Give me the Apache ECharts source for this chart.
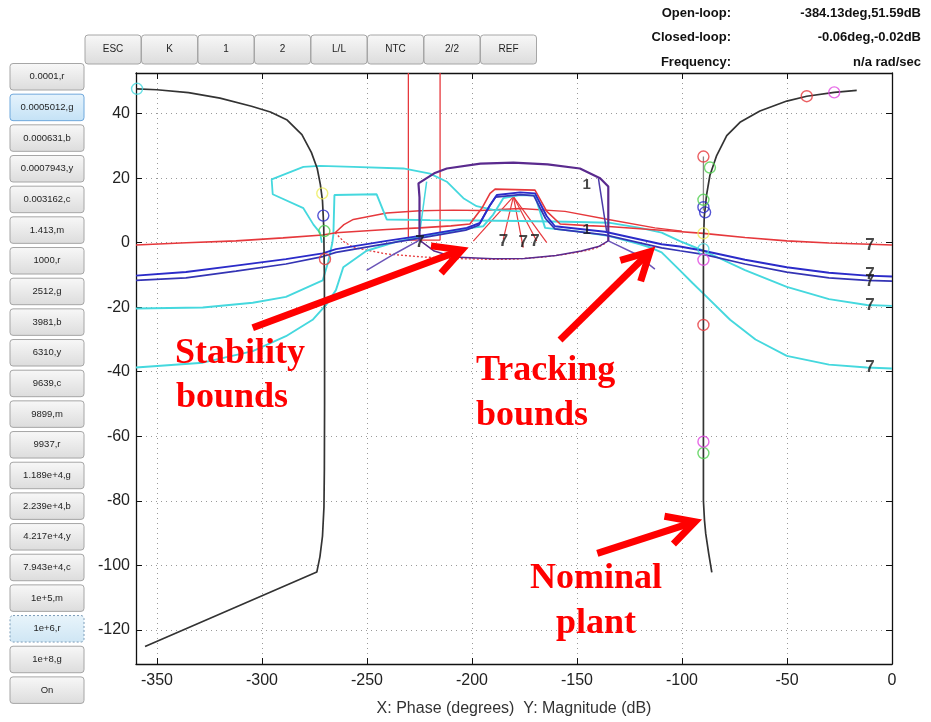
<!DOCTYPE html>
<html>
<head>
<meta charset="utf-8">
<script src="https://cdn.jsdelivr.net/npm/echarts@6/dist/echarts.min.js"></script>
<style>
html,body{margin:0;padding:0;background:#fff;}
#chart{width:931px;height:722px;}
</style>
</head>
<body>
<div id="chart"></div>
<script>
// ---------- tick values ----------
var xTicks = [-350,-300,-250,-200,-150,-100,-50,0];
var yTicks = [-120,-100,-80,-60,-40,-20,0,20,40];

// ---------- nominal plant (black) ----------
var plantLeft = [[-359.7,47.7],[-350,47.4],[-335,46.5],[-320,44.8],[-305,42.3],[-296,40.5],[-288,38.0],[-281,33.5],[-276.5,28],[-273.7,23],[-272.2,18],[-271.2,13],[-270.6,5],[-270.3,-10],[-270.2,-30],[-270.2,-50],[-270.3,-70],[-270.5,-82],[-271.2,-91],[-272.4,-97.3],[-273.9,-102.1],[-355.7,-125.2]];
var plantRight = [[-16.8,47.2],[-27.5,46.6],[-40.6,45.4],[-50.1,43.9],[-62.9,40.8],[-72.4,37.3],[-78.7,33.2],[-83.5,27],[-86.7,20.9],[-88.3,14.8],[-89.4,8],[-89.8,0],[-89.8,-20],[-89.8,-40],[-89.8,-60],[-89.8,-80],[-89.3,-86],[-88.7,-90.2],[-87.3,-96.3],[-85.8,-102.2]];
var plantStub = [[-89.8,26.7],[-89.8,10]];

// ---------- frequency markers ----------
var circCyan = [[-359.5,47.7],[-89.8,-2]];
var circYellow = [[-271.3,15.3],[-89.8,2.9]];
var circBlue = [[-270.8,8.4],[-89.8,11],[-89,9.4]];
var circGreen = [[-270.3,3.6],[-86.7,23.3],[-89.8,13.3],[-89.8,-65.2]];
var circRed = [[-270,-5.1],[-89.8,26.7],[-89.8,-25.5],[-40.6,45.4]];
var circMagenta = [[-89.8,-5.3],[-27.5,46.6],[-89.8,-61.7]];

// ---------- bounds ----------
var redTail = [[-360,-0.7],[-336,0],[-312.4,0.55],[-290,1.5],[-271.1,2.4],[-264.8,3.1],[-240.6,4.1],[-224.8,4.6],[-210,5.2],[-201,5.8],[-195,11],[-191.4,15.3],[-189,16.6],[-170,16.3],[-164.4,9.7],[-158,5.8],[-145,5.3],[-135,5],[-120,4.3],[-105,3.6],[-89.8,2.9],[-70,1.6],[-50.1,0.55],[-30,-0.1],[-10.5,-0.5],[0,-0.7]];
var redEllipseTop = [[-265.2,3.1],[-261,5.6],[-256.5,7.2],[-240.6,9.2],[-224.8,9.9],[-208.9,10.1],[-196.2,10.0],[-177.1,10.6],[-155.7,9.7],[-135.1,7.2],[-112.9,4.6],[-100,3.6]];
var redEllipseBottom = [[-265.2,3.1],[-261,0.3],[-256.5,-1.5],[-240.6,-3.5],[-224,-4.4],[-208.9,-4.9],[-190,-5.2],[-179.5,-5.1],[-165,-4.4],[-155.7,-3.6],[-145,-2.4],[-139.8,-1.4],[-136,0]];
var redBox = [[-230.3,52.6],[-230.3,0.8],[-215.2,0.8],[-215.2,52.6]];
var redFanApex = [-180.3,14.3];
var redFanEnds = [[-199.4,0.5],[-185.1,1.0],[-175.6,-1.5],[-169.2,0.5],[-164.4,0]];

var purpleOuter = [[-225,0.8],[-225,14],[-225.5,18.4],[-218,21.5],[-212,23],[-196,24.5],[-180.3,24.8],[-164,24.3],[-148.6,23],[-139,20],[-135.1,17.4],[-135.1,0.55]];
var purpleBottom = [[-225,0.8],[-218,-2.6],[-208.9,-4.4],[-190,-5.0],[-175,-4.9],[-160,-4.0],[-148,-2.6],[-139.8,-1.2],[-135.1,0.55]];
var purpleTailL = [[-225,0.8],[-237,-3.5],[-250.2,-8.6]];
var purpleTailR = [[-135.1,0.55],[-122,-3.5],[-112.9,-8.2]];
var purpleInner = [[-139.8,19.9],[-135.9,3.6]];

var blueUpper = [[-360,-10.2],[-336.2,-9.1],[-312.4,-7.1],[-288.6,-5.1],[-271.1,-3.3],[-264.8,-2.0],[-240.6,0.55],[-224.8,2.1],[-202.5,4.6],[-196.2,6.1],[-191.4,11.7],[-188.2,14.8],[-177.1,15.6],[-170,15.3],[-164.4,8.2],[-160.5,5.1],[-136.7,3.4],[-109.7,-0.5],[-101,-1.2],[-89.8,-2.5],[-70,-5.3],[-50.1,-7.6],[-30,-9.3],[-12,-10.2],[0,-10.5]];
var blueLower = [[-360,-11.7],[-336.2,-10.9],[-312.4,-8.8],[-288.6,-6.6],[-271.1,-4.3],[-264.8,-3.0],[-240.6,-0.3],[-224.8,1.4],[-203,3.9],[-196.8,5.4],[-192,11],[-188.8,14.1],[-177.1,14.9],[-170.6,14.6],[-165,7.5],[-160.5,4.3],[-136.7,2.4],[-109.7,-1.6],[-101,-2.5],[-89.8,-3.6],[-70,-6.6],[-50.1,-9.1],[-30,-10.9],[-12,-11.7],[0,-11.9]];

var cyanUpper = [[-360,-20.4],[-328.2,-20.1],[-304.4,-18.6],[-288.6,-16.8],[-271.1,-11.7],[-268.5,-6],[-266.5,0],[-266,2.6],[-265.5,14.8],[-245.4,15],[-240.6,7.2],[-220,7.0],[-199.4,6.9],[-177.1,6.7],[-155,6.5],[-135,6.2],[-120,4.6],[-109.7,3.1],[-101,0.5],[-89.8,-2.5],[-70,-8.5],[-50.1,-13.7],[-30,-17.5],[-12,-19.3],[0,-19.6]];
var cyanLower = [[-360,-38.7],[-328.2,-37.2],[-304.4,-33.6],[-288.6,-29.0],[-275.9,-23.9],[-269.5,-19.3],[-264.8,-14.7],[-261.3,-7.6],[-250.2,-2.5],[-235,0.5],[-215,3],[-200,4.6],[-194.6,5.1],[-189.9,8.7],[-185.1,13.8],[-177.1,14.8],[-170,14.6],[-165.2,4.6],[-150,3.5],[-135.1,2.1],[-120,-0.5],[-115,-1.5],[-109.7,-3],[-101,-8.6],[-95,-12.5],[-89.8,-15.8],[-77.1,-23.9],[-65,-30],[-50.1,-35.1],[-30,-37.8],[-12,-38.7],[0,-39]];
var cyanOuter = [[-271.5,0],[-272.4,3.1],[-275.5,5.6],[-280.3,10.7],[-294.9,15],[-295.4,19.6],[-280.3,23.5],[-272.4,23.8],[-256.5,23.5],[-232.7,23],[-220,21.4],[-212,18.9],[-204.1,13.8],[-197.8,11.3],[-189.9,10.2],[-177,9.7]];
var cyanInner = [[-221.6,18.9],[-224.8,3.6]];

// ---------- contour labels ----------
var sevenLabels = [[-10.5,-0.7],[-10.5,-9.7],[-10.5,-11.9],[-10.5,-19.3],[-10.5,-38.7],[-224.8,0],[-185,0.5],[-175.6,0],[-170,0.5]];
var oneLabels = [[-145.4,17.9],[-145.4,4.1]];

// ---------- GUI texts ----------
var topButtons = ['ESC','K','1','2','L/L','NTC','2/2','REF'];
var sideButtons = ['0.0001,r','0.0005012,g','0.000631,b','0.0007943,y','0.003162,c','1.413,m','1000,r','2512,g','3981,b','6310,y','9639,c','9899,m','9937,r','1.189e+4,g','2.239e+4,b','4.217e+4,y','7.943e+4,c','1e+5,m','1e+6,r','1e+8,g','On'];
var infoLabels = ['Open-loop:','Closed-loop:','Frequency:'];
var infoValues = ['-384.13deg,51.59dB','-0.06deg,-0.02dB','n/a rad/sec'];
var annotations = [['Stability','bounds'],['Tracking','bounds'],['Nominal','plant']];

// ---------- colours ----------
var C = {red:'#e6383c', green:'#4fcf4f', blue:'#2b2bc9', yellow:'#ecec58', cyan:'#45d8de', magenta:'#e046e0', purple:'#5a2a8e', black:'#333333'};

var FONT = 'Liberation Sans, Arial, sans-serif';

function lineSeries(data, color, width, z, extra) {
  var s = {type:'line', data:data, showSymbol:false, symbol:'none', smooth:false,
    lineStyle:{color:color, width:width}, z:z||2, silent:true, animation:false, clip:true};
  if (extra) for (var k in extra) s[k] = extra[k];
  return s;
}
function circleSeries(data, color) {
  return {type:'scatter', data:data, symbol:'circle', symbolSize:11, z:5, silent:true,
    itemStyle:{color:'rgba(0,0,0,0)', borderColor:color, borderWidth:1.4}};
}
function labelSeries(data, text, size, weight) {
  return {type:'scatter', data:data, symbolSize:1, z:6, silent:true,
    itemStyle:{color:'rgba(0,0,0,0)'},
    label:{show:true, position:'inside', formatter:text, color:'#1a1a1a', fontSize:size, fontWeight:weight, fontFamily:FONT}};
}

var series = [];
series.push(lineSeries(redEllipseBottom, C.red, 1.3, 2, {lineStyle:{color:C.red, width:1.3, type:[2,2]}}));
series.push(lineSeries(purpleBottom, C.purple, 1.5, 2));
series.push(lineSeries(redEllipseTop, C.red, 1.4, 2));
series.push(lineSeries(redBox, C.red, 1.3, 2));
redFanEnds.forEach(function(p){ series.push(lineSeries([redFanApex, p], C.red, 1.2, 2)); });
series.push(lineSeries(cyanOuter, C.cyan, 1.8, 2));
series.push(lineSeries(cyanInner, C.cyan, 1.5, 2));
series.push(lineSeries(cyanUpper, C.cyan, 1.9, 3));
series.push(lineSeries(cyanLower, C.cyan, 1.9, 3));
series.push(lineSeries(redTail, C.red, 1.6, 3));
series.push(lineSeries(purpleTailL, '#6b55b8', 1.5, 3));
series.push(lineSeries(purpleTailR, '#6b55b8', 1.5, 3));
series.push(lineSeries(purpleInner, '#4b3aa8', 1.5, 3));
series.push(lineSeries(purpleOuter, C.purple, 2.2, 3));
series.push(lineSeries(blueLower, '#3434b4', 1.7, 3));
series.push(lineSeries(blueUpper, C.blue, 1.9, 3));
series.push(lineSeries(plantStub, '#888888', 1.3, 4));
series.push(lineSeries(plantLeft, C.black, 1.7, 4));
series.push(lineSeries(plantRight, C.black, 1.7, 4));
series.push(circleSeries(circCyan, C.cyan));
series.push(circleSeries(circYellow, C.yellow));
series.push(circleSeries(circBlue, C.blue));
series.push(circleSeries(circGreen, C.green));
series.push(circleSeries(circRed, C.red));
series.push(circleSeries(circMagenta, C.magenta));
series.push(labelSeries(sevenLabels, '7', 17, 'bold'));
series.push(labelSeries(oneLabels, '1', 15, 'bold'));

var gridLine = {show:true, lineStyle:{color:'#9a9a9a', width:1, type:[1,4]}};
var axisLineBlack = {show:true, onZero:false, lineStyle:{color:'#111', width:1.3}};

var option = {
  backgroundColor:'#ffffff',
  animation:false,
  grid:{left:136, right:39, top:73, bottom:50, containLabel:false},
  xAxis:[
    {type:'value', min:-360, max:0, position:'bottom',
     axisLine:axisLineBlack,
     axisTick:{show:true, inside:true, length:6, customValues:xTicks, lineStyle:{color:'#111'}},
     axisLabel:{show:true, customValues:xTicks, fontSize:16, color:'#222', margin:9, fontFamily:FONT},
     splitLine:gridLine,
     name:'X: Phase (degrees)  Y: Magnitude (dB)', nameLocation:'middle', nameGap:37,
     nameTextStyle:{fontSize:16, color:'#333', fontFamily:FONT}},
    {type:'value', min:-360, max:0, position:'top',
     axisLine:axisLineBlack,
     axisTick:{show:true, inside:true, length:6, customValues:xTicks, lineStyle:{color:'#111'}},
     axisLabel:{show:false}, splitLine:{show:false}}
  ],
  yAxis:[
    {type:'value', min:-130.6, max:52.6, position:'left',
     axisLine:axisLineBlack,
     axisTick:{show:true, inside:true, length:6, customValues:yTicks, lineStyle:{color:'#111'}},
     axisLabel:{show:true, customValues:yTicks, fontSize:16, color:'#222', margin:6, fontFamily:FONT},
     splitLine:gridLine},
    {type:'value', min:-130.6, max:52.6, position:'right',
     axisLine:axisLineBlack,
     axisTick:{show:true, inside:true, length:6, customValues:yTicks, lineStyle:{color:'#111'}},
     axisLabel:{show:false}, splitLine:{show:false}}
  ],
  series:series
};

var chart = echarts.init(document.getElementById('chart'), null, {renderer:'canvas'});
chart.setOption(option);

// ---------- GUI & annotations (graphic layer) ----------
var g = [];
function button(x, y, w, h, text, state, fs) {
  var fill = {type:'linear', x:0, y:0, x2:0, y2:1, colorStops:[{offset:0,color:'#f8f8f8'},{offset:1,color:'#dcdcdc'}]};
  var stroke = '#a6a6a6', dash = null;
  if (state === 'sel') { fill = {type:'linear', x:0, y:0, x2:0, y2:1, colorStops:[{offset:0,color:'#e6f3fc'},{offset:1,color:'#c4e2f6'}]}; stroke = '#6fa8dc'; }
  if (state === 'focus') { fill = {type:'linear', x:0, y:0, x2:0, y2:1, colorStops:[{offset:0,color:'#e8f4fb'},{offset:1,color:'#cfe6f4'}]}; stroke = '#7a9cb8'; dash = [2,2]; }
  g.push({type:'rect', shape:{x:x, y:y, width:w, height:h, r:3}, style:{fill:fill, stroke:stroke, lineWidth:1, lineDash:dash}, z:10, silent:true});
  g.push({type:'text', x:x + w/2, y:y + h/2, style:{text:text, fill:'#1e1e1e', font:'normal ' + fs + 'px ' + FONT, textAlign:'center', textVerticalAlign:'middle'}, z:11, silent:true});
}
topButtons.forEach(function(t, i){ button(85 + i*56.5, 35, 56, 29, t, null, 10); });
sideButtons.forEach(function(t, i){
  var st = (i === 1) ? 'sel' : (i === 18 ? 'focus' : null);
  button(10, 63.5 + i*30.67, 74, 26.5, t, st, 9.5);
});
infoLabels.forEach(function(t, i){
  g.push({type:'text', x:731, y:13 + i*24.5, style:{text:t, fill:'#111', font:'bold 13px ' + FONT, textAlign:'right', textVerticalAlign:'middle'}, z:11, silent:true});
  g.push({type:'text', x:921, y:13 + i*24.5, style:{text:infoValues[i], fill:'#111', font:'bold 13px ' + FONT, textAlign:'right', textVerticalAlign:'middle'}, z:11, silent:true});
});

// annotation texts (red, bold serif)
var annPos = [[175, 371.5, 'left'], [476, 389, 'left'], [596, 597, 'center']];
annotations.forEach(function(lines, i){
  var p = annPos[i];
  lines.forEach(function(t, j){
    g.push({type:'text', x:p[0] + (p[2]==='left' && j===1 && i===0 ? 1 : 0), y:p[1] + j*44.5,
      style:{text:t, fill:'#ff0000', font:'bold 36px Liberation Serif, Times New Roman, serif', textAlign:p[2], textVerticalAlign:'bottom'}, z:12, silent:true});
  });
});

// arrows (pixel space, overlay annotations)
var arrows = [[[252.7,327.7],[461.7,250]], [[560,340],[650,251.7]], [[597.3,553.3],[695,521.7]]];
arrows.forEach(function(a){
  var s = a[0], t = a[1];
  var dx = t[0]-s[0], dy = t[1]-s[1], L = Math.sqrt(dx*dx+dy*dy);
  var ux = dx/L, uy = dy/L, hl = 31, th = 28*Math.PI/180;
  function wing(sign){ var c=Math.cos(sign*th), sn=Math.sin(sign*th);
    var bx=-ux, by=-uy; return [t[0] + hl*(bx*c - by*sn), t[1] + hl*(bx*sn + by*c)]; }
  g.push({type:'polyline', shape:{points:[s, [t[0]-ux*3, t[1]-uy*3]]}, style:{stroke:'#ff0000', lineWidth:7, lineCap:'butt', fill:null}, z:12, silent:true});
  g.push({type:'polyline', shape:{points:[wing(1), t, wing(-1)]}, style:{stroke:'#ff0000', lineWidth:7, lineJoin:'miter', miterLimit:10, lineCap:'butt', fill:null}, z:12, silent:true});
});

chart.setOption({graphic:g});
</script>
</body>
</html>
